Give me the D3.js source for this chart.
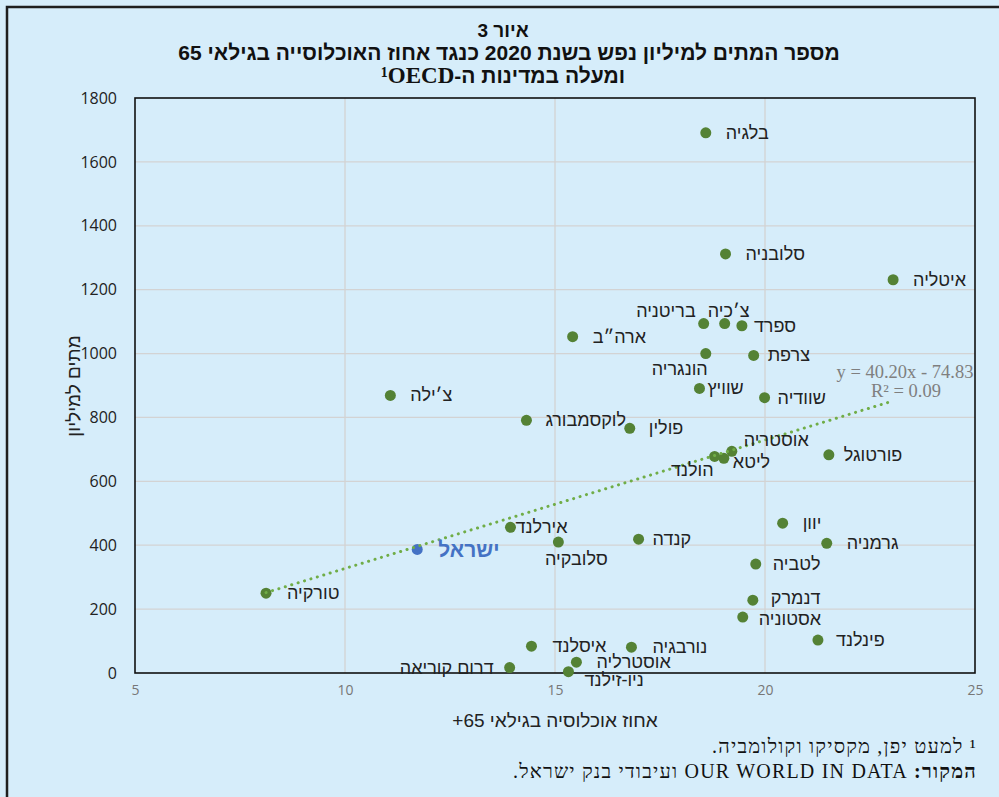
<!DOCTYPE html>
<html>
<head>
<meta charset="utf-8">
<script src="https://cdn.jsdelivr.net/npm/d3@7"></script>
<style>
  body { margin: 0; background: #d6edfa; }
  svg { display: block; }
</style>
</head>
<body>
<svg width="999" height="797"></svg>
<script>
// values
var countries = ['בלגיה', 'סלובניה', 'איטליה', 'צ׳כיה', 'בריטניה', 'ספרד', 'ארה״ב', 'הונגריה',
    'צרפת', 'שוויץ', 'שוודיה', 'צ׳ילה', 'לוקסמבורג', 'פולין', 'אוסטריה', 'ליטא', 'הולנד',
    'פורטוגל', 'יוון', 'גרמניה', 'אירלנד', 'סלובקיה', 'קנדה', 'ישראל', 'לטביה', 'טורקיה',
    'דנמרק', 'אסטוניה', 'פינלנד', 'איסלנד', 'נורבגיה', 'אוסטרליה', 'דרום קוריאה', 'ניו-זילנד'];
var popOver65 = [18.59, 19.06, 23.05, 19.04, 18.54, 19.45, 15.42, 18.59,
    19.73, 18.44, 19.99, 11.08, 14.32, 16.78, 19.21, 19.02, 18.80,
    21.52, 20.42, 21.47, 13.94, 15.08, 16.99, 11.72, 19.78, 8.12,
    19.71, 19.47, 21.26, 14.44, 16.82, 15.51, 13.92, 15.32];
var deathsPerMillion = [1691, 1312, 1231, 1094, 1094, 1087, 1053, 1000,
    994, 891, 862, 869, 791, 766, 694, 672, 678,
    683, 469, 406, 456, 410, 419, 387, 341, 250,
    228, 175, 103, 84, 81, 34, 17, 4];
var xTicks = [5, 10, 15, 20, 25];
var yTicks = [0, 200, 400, 600, 800, 1000, 1200, 1400, 1600, 1800];
var trendSlope = 40.20, trendIntercept = -74.83, trendR2 = 0.09;
var highlight = 'ישראל';

// where each data label sits relative to its dot: [anchor, dx, dy]
var labelPlace = {
    'בלגיה': ['start', 20, 0], 'סלובניה': ['start', 20, 0], 'איטליה': ['start', 20, 0],
    'צ׳כיה': ['middle', 4, -13], 'בריטניה': ['end', -8, -13], 'ספרד': ['start', 12, 0],
    'ארה״ב': ['start', 20, 0], 'הונגריה': ['end', 2, 15], 'צרפת': ['start', 14, 0],
    'שוויץ': ['start', 8, 0], 'שוודיה': ['start', 13, 0], 'צ׳ילה': ['start', 20, 0],
    'לוקסמבורג': ['start', 19, 0], 'פולין': ['start', 19, 0], 'אוסטריה': ['start', 12, -11],
    'ליטא': ['start', 9, 4], 'הולנד': ['end', -1, 14], 'פורטוגל': ['start', 15, 0],
    'יוון': ['start', 20, 0], 'גרמניה': ['start', 20, 0], 'אירלנד': ['start', 5, 0],
    'סלובקיה': ['middle', 18, 17], 'קנדה': ['start', 14, 0], 'ישראל': ['start', 21, 0],
    'לטביה': ['start', 17, 0], 'טורקיה': ['start', 21, 0], 'דנמרק': ['start', 18, -2],
    'אסטוניה': ['start', 16, 2], 'פינלנד': ['start', 18, 0], 'איסלנד': ['start', 21, 0],
    'נורבגיה': ['start', 21, 0], 'אוסטרליה': ['start', 20, 0], 'דרום קוריאה': ['end', -16, 0],
    'ניו-זילנד': ['start', 16, 8]
};

var data = countries.map(function(c, i) {
    return {name: c, x: popOver65[i], y: deathsPerMillion[i]};
});

var svg = d3.select('svg');
var W = +svg.attr('width'), H = +svg.attr('height');

svg.append('rect').attr('width', W).attr('height', H).attr('fill', '#d6edfa');

// outer frame (only top and left are in view)
svg.append('path')
    .attr('d', 'M7,' + H + 'V7H' + W)
    .attr('fill', 'none')
    .attr('stroke', '#1e1e1e')
    .attr('stroke-width', 2.5);

var plot = {l: 135, r: 975, t: 98, b: 673};

var xScale = d3.scaleLinear().domain([5, 25]).range([plot.l, plot.r]);
var yScale = d3.scaleLinear().domain([0, 1800]).range([plot.b, plot.t]);

// gridlines
var grid = svg.append('g').attr('stroke', '#d3d3d3').attr('stroke-width', 1.3);
grid.selectAll('.hg').data(yTicks.slice(1, -1)).enter().append('line')
    .attr('x1', plot.l).attr('x2', plot.r)
    .attr('y1', function(d) { return yScale(d); })
    .attr('y2', function(d) { return yScale(d); });
grid.selectAll('.vg').data(xTicks.slice(1, -1)).enter().append('line')
    .attr('y1', plot.t).attr('y2', plot.b)
    .attr('x1', function(d) { return xScale(d); })
    .attr('x2', function(d) { return xScale(d); });

// plot border
svg.append('rect')
    .attr('x', plot.l).attr('y', plot.t)
    .attr('width', plot.r - plot.l).attr('height', plot.b - plot.t)
    .attr('fill', 'none').attr('stroke', '#111').attr('stroke-width', 1.6);

// axes
var yAxisG = svg.append('g')
    .attr('transform', 'translate(' + plot.l + ',0)')
    .call(d3.axisLeft(yScale).tickValues(yTicks).tickFormat(d3.format('d')).tickSize(0).tickPadding(18));
yAxisG.select('.domain').remove();
yAxisG.selectAll('text')
    .attr('font-family', 'Open Sans')
    .attr('font-size', 16)
    .attr('fill', '#222');

var xAxisG = svg.append('g')
    .attr('transform', 'translate(0,' + plot.b + ')')
    .call(d3.axisBottom(xScale).tickValues(xTicks).tickSize(0).tickPadding(12));
xAxisG.select('.domain').remove();
xAxisG.selectAll('text')
    .attr('font-family', 'Open Sans')
    .attr('font-size', 14)
    .attr('fill', '#777');

// axis titles
svg.append('text')
    .attr('transform', 'translate(73,386) rotate(-90)')
    .attr('text-anchor', 'middle')
    .attr('dominant-baseline', 'central')
    .attr('font-family', 'Liberation Sans')
    .attr('font-size', 19)
    .attr('fill', '#222')
    .text('מתים למיליון');

svg.append('text')
    .attr('x', 555).attr('y', 720)
    .attr('direction', 'rtl')
    .attr('text-anchor', 'middle')
    .attr('dominant-baseline', 'central')
    .attr('font-family', 'Liberation Sans')
    .attr('font-size', 19)
    .attr('fill', '#222')
    .text('אחוז אוכלוסיה בגילאי 65+');

// dots
svg.append('g').selectAll('circle')
    .data(data).enter().append('circle')
    .attr('cx', function(d) { return xScale(d.x); })
    .attr('cy', function(d) { return yScale(d.y); })
    .attr('r', 5.5)
    .attr('fill', function(d) { return d.name == highlight ? '#4472c4' : '#548235'; });

// linear trendline over the data range
var xr = d3.extent(popOver65);
svg.append('line')
    .attr('x1', xScale(xr[0])).attr('y1', yScale(trendSlope * xr[0] + trendIntercept))
    .attr('x2', xScale(xr[1])).attr('y2', yScale(trendSlope * xr[1] + trendIntercept))
    .attr('stroke', '#70ad47')
    .attr('stroke-width', 3)
    .attr('stroke-linecap', 'round')
    .attr('stroke-dasharray', '0.1 6.6');

var eq = svg.append('g')
    .attr('font-family', 'Liberation Serif')
    .attr('font-size', 18.5)
    .attr('fill', '#7f7f7f')
    .attr('text-anchor', 'middle');
eq.append('text').attr('x', 905).attr('y', 378)
    .text('y = ' + trendSlope.toFixed(2) + 'x - ' + Math.abs(trendIntercept).toFixed(2));
eq.append('text').attr('x', 906).attr('y', 397)
    .text('R² = ' + trendR2.toFixed(2));

// data labels
svg.append('g').selectAll('text')
    .data(data).enter().append('text')
    .attr('x', function(d) { return xScale(d.x) + labelPlace[d.name][1]; })
    .attr('y', function(d) { return yScale(d.y) + labelPlace[d.name][2]; })
    .attr('text-anchor', function(d) { return labelPlace[d.name][0]; })
    .attr('dominant-baseline', 'central')
    .attr('font-family', 'Liberation Sans')
    .attr('font-size', function(d) { return d.name == highlight ? 21 : 18; })
    .attr('font-weight', function(d) { return d.name == highlight ? 'bold' : 'normal'; })
    .attr('fill', function(d) { return d.name == highlight ? '#4472c4' : '#222'; })
    .text(function(d) { return d.name; });

// title
var title = svg.append('g')
    .attr('font-family', 'Liberation Sans')
    .attr('font-weight', 'bold')
    .attr('fill', '#111')
    .attr('text-anchor', 'middle');
title.append('text').attr('x', 503).attr('y', 37).attr('font-size', 19)
    .attr('direction', 'rtl').text('איור 3');
title.append('text').attr('x', 509).attr('y', 60).attr('font-size', 21)
    .attr('direction', 'rtl')
    .text('מספר המתים למיליון נפש בשנת 2020 כנגד אחוז האוכלוסייה בגילאי 65');
var t3 = title.append('text').attr('x', 503).attr('y', 83).attr('font-size', 21)
    .attr('direction', 'rtl');
t3.append('tspan').text('ומעלה במדינות ה-');
t3.append('tspan').attr('font-family', 'Liberation Serif').attr('font-size', 23).text('OECD\u200F¹');

// footnotes
var notes = svg.append('g')
    .attr('font-family', 'Liberation Serif')
    .attr('font-size', 20)
    .attr('letter-spacing', 1.2)
    .attr('fill', '#111');
notes.append('text').attr('x', 977).attr('y', 753)
    .attr('direction', 'rtl').attr('text-anchor', 'start')
    .text('¹ למעט יפן, מקסיקו וקולומביה.');
var src = notes.append('text').attr('x', 977).attr('y', 778)
    .attr('direction', 'rtl').attr('text-anchor', 'start');
src.append('tspan').attr('font-weight', 'bold').text('המקור: ');
src.append('tspan').text('OUR WORLD IN DATA ועיבודי בנק ישראל.');
</script>
</body>
</html>
